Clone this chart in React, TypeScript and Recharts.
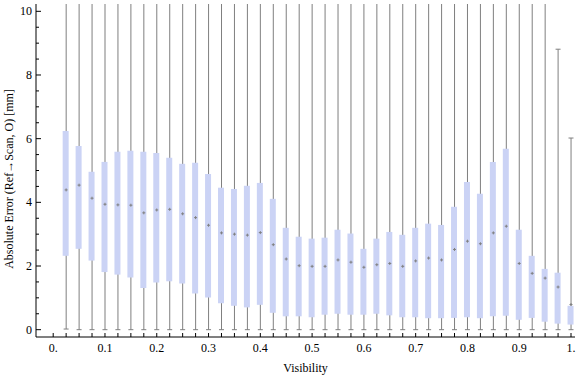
import React from 'react';
import { ComposedChart, Bar, Scatter, XAxis, YAxis, Label } from 'recharts';

// ---- data ----
const visibility = [
  0.025, 0.05, 0.075, 0.1, 0.125, 0.15, 0.175, 0.2, 0.225, 0.25,
  0.275, 0.3, 0.325, 0.35, 0.375, 0.4, 0.425, 0.45, 0.475, 0.5,
  0.525, 0.55, 0.575, 0.6, 0.625, 0.65, 0.675, 0.7, 0.725, 0.75,
  0.775, 0.8, 0.825, 0.85, 0.875, 0.9, 0.925, 0.95, 0.975, 1.0,
];
const whiskerLow = [
  0.02, 0, 0, 0, 0, 0, 0, 0, 0, 0,
  0, 0, 0, 0, 0, 0, 0, 0, 0, 0,
  0, 0, 0, 0, 0, 0, 0, 0, 0, 0,
  0, 0, 0, 0, 0, 0, 0, 0, 0, 0,
];
const quartileLow = [
  2.32, 2.54, 2.17, 1.81, 1.73, 1.64, 1.31, 1.48, 1.52, 1.45,
  1.14, 1.01, 0.83, 0.75, 0.70, 0.78, 0.53, 0.42, 0.42, 0.39,
  0.47, 0.50, 0.47, 0.47, 0.50, 0.45, 0.39, 0.39, 0.36, 0.36,
  0.37, 0.39, 0.36, 0.42, 0.44, 0.31, 0.37, 0.25, 0.19, 0.16,
];
const medians = [
  4.39, 4.54, 4.13, 3.94, 3.92, 3.91, 3.67, 3.76, 3.78, 3.64,
  3.52, 3.28, 3.04, 3.00, 2.97, 3.05, 2.67, 2.22, 2.01, 1.99,
  1.99, 2.19, 2.12, 1.96, 2.04, 2.08, 1.99, 2.16, 2.25, 2.19,
  2.52, 2.78, 2.70, 3.04, 3.25, 2.08, 1.77, 1.62, 1.34, 0.79,
];
const quartileHigh = [
  6.24, 5.77, 4.96, 5.27, 5.59, 5.62, 5.59, 5.55, 5.40, 5.21,
  5.24, 4.89, 4.46, 4.42, 4.52, 4.61, 4.11, 3.20, 2.92, 2.86,
  2.89, 3.14, 3.02, 2.54, 2.86, 3.07, 2.98, 3.20, 3.33, 3.29,
  3.86, 4.64, 4.27, 5.27, 5.68, 3.14, 2.32, 1.91, 1.79, 0.75,
];
const whiskerHigh = [
  12, 12, 12, 12, 12, 12, 12, 12, 12, 12,
  12, 12, 12, 12, 12, 12, 12, 12, 12, 12,
  12, 12, 12, 12, 12, 12, 12, 12, 12, 12,
  12, 12, 12, 12, 12, 12, 12, 12, 8.81, 6.02,
];

const xTicks = [
  0, 0.025, 0.05, 0.075, 0.1, 0.125, 0.15, 0.175, 0.2, 0.225, 0.25,
  0.275, 0.3, 0.325, 0.35, 0.375, 0.4, 0.425, 0.45, 0.475, 0.5,
  0.525, 0.55, 0.575, 0.6, 0.625, 0.65, 0.675, 0.7, 0.725, 0.75,
  0.775, 0.8, 0.825, 0.85, 0.875, 0.9, 0.925, 0.95, 0.975, 1.0,
];
const xLabelValues = [0, 0.1, 0.2, 0.3, 0.4, 0.5, 0.6, 0.7, 0.8, 0.9, 1.0];
const xLabelTexts = ['0.', '0.1', '0.2', '0.3', '0.4', '0.5', '0.6', '0.7', '0.8', '0.9', '1.'];
const yTicks = [
  0, 0.5, 1, 1.5, 2, 2.5, 3, 3.5, 4, 4.5, 5, 5.5, 6, 6.5, 7, 7.5, 8, 8.5, 9, 9.5, 10,
];
const yLabelValues = [0, 2, 4, 6, 8, 10];

const X_DOMAIN: [number, number] = [-0.0332, 1.0077];
const Y_DOMAIN: [number, number] = [-0.23, 10.23];

const data = visibility.map((v, i) => ({
  v,
  whisker: [whiskerLow[i], whiskerHigh[i]],
  box: [quartileLow[i], quartileHigh[i]],
  median: medians[i],
  capLow: whiskerLow[i],
  capHigh: whiskerHigh[i],
}));
const capHighData = data.filter((d) => d.capHigh <= Y_DOMAIN[1]);

// ---- styles ----
const FONT = '"Liberation Serif", "Times New Roman", serif';
const BOX_FILL = '#cbd3f5';
const WHISKER = '#7f7f7f';

const near = (a: number, b: number) => Math.abs(a - b) < 1e-6;

const BottomTick = (props: any) => {
  const { x, y, payload } = props;
  const idx = xLabelValues.findIndex((lv) => near(lv, payload.value));
  return (
    <g>
      <line x1={x} x2={x} y1={y} y2={y - 4} stroke="#000" strokeWidth={1} />
      {idx >= 0 && (
        <text x={x} y={y + 15} textAnchor="middle" fontSize={12} fontFamily={FONT} fill="#000">
          {xLabelTexts[idx]}
        </text>
      )}
    </g>
  );
};

const TopTick = (props: any) => {
  const { x, y } = props;
  return <line x1={x} x2={x} y1={y} y2={y + 4} stroke="#000" strokeWidth={1} />;
};

const LeftTick = (props: any) => {
  const { x, y, payload } = props;
  const major = yLabelValues.some((lv) => near(lv, payload.value));
  return (
    <g>
      <line x1={x} x2={x + (major ? 5 : 3)} y1={y} y2={y} stroke="#000" strokeWidth={1} />
      {major && (
        <text x={x - 4} y={y + 4} textAnchor="end" fontSize={12} fontFamily={FONT} fill="#000">
          {String(payload.value)}
        </text>
      )}
    </g>
  );
};

const RightTick = (props: any) => {
  const { x, y, payload } = props;
  const major = yLabelValues.some((lv) => near(lv, payload.value));
  return <line x1={x} x2={x - (major ? 5 : 3)} y1={y} y2={y} stroke="#000" strokeWidth={1} />;
};

const CapShape = (props: any) => {
  const { cx, cy } = props;
  if (cx == null || cy == null || isNaN(cy)) return <g />;
  return <line x1={cx - 2.5} x2={cx + 2.5} y1={cy} y2={cy} stroke={WHISKER} strokeWidth={1} />;
};

const MedianShape = (props: any) => {
  const { cx, cy } = props;
  if (cx == null || cy == null) return <g />;
  return (
    <g>
      <line x1={cx - 1.5} x2={cx + 1.5} y1={cy} y2={cy} stroke="#808080" strokeWidth={1} />
      <line x1={cx} x2={cx} y1={cy - 1.5} y2={cy + 1.5} stroke="#808080" strokeWidth={1} />
    </g>
  );
};

const YLabelContent = () => (
  <text
    transform="translate(13,179) rotate(-90)"
    textAnchor="middle"
    fontSize={12}
    fontFamily={FONT}
    fill="#000"
  >
    Absolute Error (Ref→Scan, O) [mm]
  </text>
);

export default function App() {
  return (
    <div style={{ position: 'absolute', left: 0, top: 0, width: 576, height: 377, background: '#fff' }}>
      <ComposedChart
        width={576}
        height={377}
        data={data}
        margin={{ top: 4, right: 1, bottom: 0, left: 0 }}
      >
        <XAxis
          dataKey="v"
          type="number"
          domain={X_DOMAIN}
          allowDataOverflow
          ticks={xTicks}
          interval={0}
          tick={<BottomTick />}
          tickLine={false}
          tickSize={0}
          tickMargin={0}
          height={40}
          axisLine={{ stroke: '#000' }}
        >
          <Label value="Visibility" position="insideBottom" offset={5} fontSize={12} fontFamily={FONT} fill="#000" />
        </XAxis>
        <XAxis xAxisId="w" dataKey="v" type="number" domain={X_DOMAIN} allowDataOverflow hide />
        <XAxis
          xAxisId="t"
          orientation="top"
          dataKey="v"
          type="number"
          domain={X_DOMAIN}
          allowDataOverflow
          ticks={xTicks}
          interval={0}
          tick={<TopTick />}
          tickLine={false}
          tickSize={0}
          tickMargin={0}
          height={0}
          axisLine={{ stroke: '#000' }}
        />
        <YAxis
          type="number"
          domain={Y_DOMAIN}
          allowDataOverflow
          ticks={yTicks}
          interval={0}
          tick={<LeftTick />}
          tickLine={false}
          tickSize={0}
          tickMargin={0}
          width={36}
          axisLine={{ stroke: '#000' }}
        >
          <Label content={<YLabelContent />} />
        </YAxis>
        <YAxis
          yAxisId="r"
          orientation="right"
          type="number"
          domain={Y_DOMAIN}
          allowDataOverflow
          ticks={yTicks}
          interval={0}
          tick={<RightTick />}
          tickLine={false}
          tickSize={0}
          tickMargin={0}
          width={0}
          axisLine={{ stroke: '#000' }}
        />
        <Bar xAxisId="w" dataKey="whisker" barSize={1} fill={WHISKER} isAnimationActive={false} />
        <Bar dataKey="box" barSize={6} fill={BOX_FILL} isAnimationActive={false} />
        <Scatter dataKey="capLow" shape={<CapShape />} isAnimationActive={false} />
        <Scatter data={capHighData} dataKey="capHigh" shape={<CapShape />} isAnimationActive={false} />
        <Scatter dataKey="median" shape={<MedianShape />} isAnimationActive={false} />
      </ComposedChart>
    </div>
  );
}
